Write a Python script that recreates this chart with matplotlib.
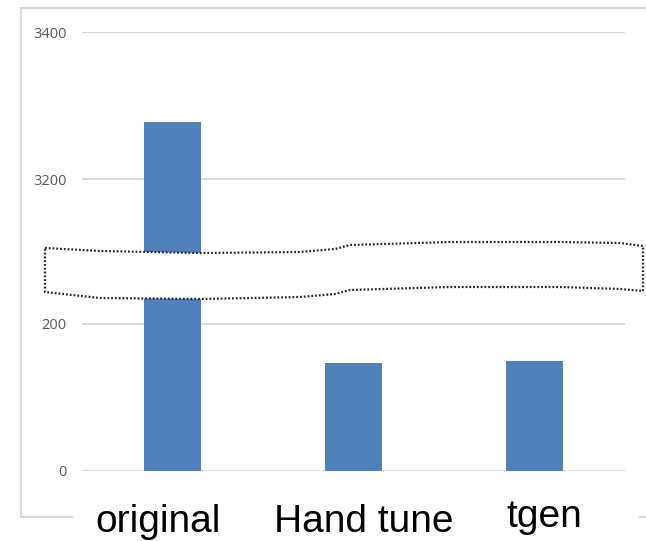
import numpy as np
import matplotlib
matplotlib.use("Agg")
import matplotlib.pyplot as plt
from matplotlib.path import Path
from matplotlib.patches import PathPatch
from matplotlib.lines import Line2D

# ---- data ----
categories = ["original", "Hand tune", "tgen"]
values = [3278, 147, 150]
tick_values = [0, 200, 3200, 3400]
tick_labels = ["0", "200", "3200", "3400"]

W, H = 646, 541
fig = plt.figure(figsize=(W / 100, H / 100), dpi=100)

def fx(px):
    return px / W

def fy(py):
    return 1 - py / H

# broken-axis scale: identity below 250, compress 250..3100, shift above
LO, HI, HI_U = 250.0, 3100.0, 297.0
K = (HI_U - LO) / (HI - LO)

def forward(y):
    y = np.asarray(y, dtype=float)
    return np.where(y <= LO, y, np.where(y < HI, LO + (y - LO) * K, y - (HI - HI_U)))

def inverse(u):
    u = np.asarray(u, dtype=float)
    return np.where(u <= LO, u, np.where(u < HI_U, LO + (u - LO) / K, u + (HI - HI_U)))

ax = fig.add_axes([fx(82), fy(471), fx(625) - fx(82), fy(32) - fy(471)])
ax.set_yscale("function", functions=(forward, inverse))

x = np.arange(len(categories))
ax.bar(x, values, width=0.315, color="#4F81BD", zorder=3)
ax.set_xlim(-0.5, len(categories) - 0.5)
ax.set_ylim(0, 3400)

ax.set_yticks(tick_values)
ax.set_yticklabels(tick_labels, fontfamily="Open Sans", fontsize=10.5, color="#595959")
ax.tick_params(axis="y", length=0, pad=11)
ax.set_xticks([])
ax.yaxis.grid(True, color="#D9D9D9", linewidth=1.4, zorder=0)
ax.yaxis.set_minor_locator(matplotlib.ticker.NullLocator())
for s in ax.spines.values():
    s.set_visible(False)

# chart border (gray), interrupted at bottom by labels
border = dict(color="#D9D9D9", linewidth=1.5, transform=fig.transFigure)
fig.add_artist(Line2D([fx(21), fx(21)], [fy(8), fy(517)], **border))
fig.add_artist(Line2D([fx(21), fx(660)], [fy(8), fy(8)], **border))
fig.add_artist(Line2D([fx(21), fx(72)], [fy(517), fy(517)], **border))
fig.add_artist(Line2D([fx(640), fx(660)], [fy(517), fy(517)], **border))

# break shape (white band with dotted outline)
pts = [(45, 248), (100, 251), (200, 253), (300, 252), (335, 249), (350, 245),
       (450, 242), (560, 242), (620, 243), (643, 246),
       (643, 291), (620, 289), (560, 287), (450, 287), (350, 290), (335, 294),
       (300, 297), (200, 299), (100, 298), (45, 292), (45, 248)]
verts = [(fx(a), fy(b)) for a, b in pts]
codes = [Path.MOVETO] + [Path.LINETO] * (len(verts) - 2) + [Path.CLOSEPOLY]
patch = PathPatch(Path(verts, codes), facecolor="white", edgecolor="#222222",
                  linewidth=1.6, linestyle=(0, (0.8, 0.9)), transform=fig.transFigure,
                  zorder=10)
fig.add_artist(patch)

# category labels
label_pos = [(158, 532), (364, 532), (544, 527)]
for name, (px, py) in zip(categories, label_pos):
    fig.text(fx(px), fy(py), name, ha="center", va="baseline",
             fontfamily="Liberation Sans", fontsize=28, color="black")

fig.savefig("out.png", dpi=100)
